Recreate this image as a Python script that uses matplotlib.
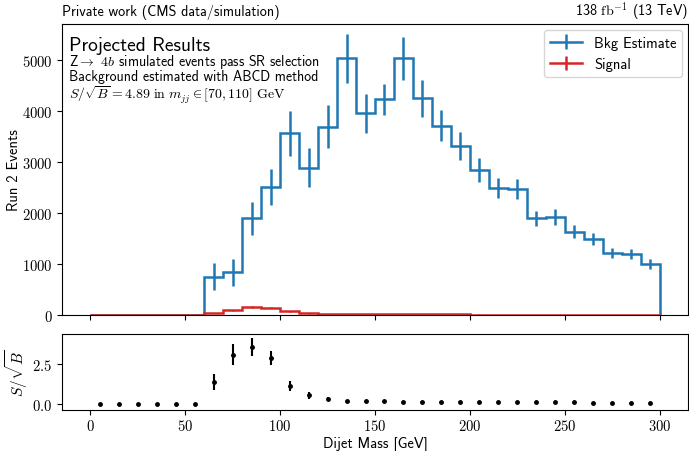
import numpy as np
import matplotlib
matplotlib.use("Agg")
import matplotlib.pyplot as plt
from matplotlib.ticker import FuncFormatter

plt.rcParams["font.family"] = ["cmss10", "DejaVu Sans"]
plt.rcParams["mathtext.fontset"] = "cm"
plt.rcParams["axes.unicode_minus"] = False

# binning: 10 GeV bins from 0 to 300
bin_edges = np.arange(0, 310, 10)
bin_centers = bin_edges[:-1] + 5

bkg = [0, 0, 0, 0, 0, 0, 753, 837, 1896, 2504, 3563, 2890, 3694, 5035, 3955,
       4229, 5033, 4249, 3712, 3320, 2843, 2495, 2470, 1895, 1928, 1634, 1490,
       1216, 1196, 1000]
bkg_err = [0, 0, 0, 0, 0, 0, 260, 260, 320, 355, 435, 380, 420, 480, 390,
           310, 420, 355, 305, 270, 235, 195, 190, 150, 155, 125, 115,
           105, 100, 95]
sig = [0, 0, 0, 0, 0, 0, 38, 90, 157, 145, 69, 30, 19, 12, 11,
       11, 10, 10, 9, 9, 8, 6, 6, 5, 5, 4, 4, 3, 3, 3]
sig_err = [0, 0, 0, 0, 0, 0, 6, 9, 12, 11, 8, 5, 4, 3, 3,
           3, 3, 3, 3, 3, 3, 2, 2, 2, 2, 2, 2, 2, 2, 2]

ratio = [0, 0, 0, 0, 0, 0, 1.39, 3.1, 3.6, 2.9, 1.15, 0.56, 0.31, 0.19, 0.17,
         0.17, 0.16, 0.16, 0.15, 0.15, 0.15, 0.12, 0.12, 0.12, 0.12, 0.11,
         0.1, 0.1, 0.1, 0.09]
ratio_err = [0, 0, 0, 0, 0, 0, 0.5, 0.65, 0.57, 0.45, 0.3, 0.22, 0.12, 0.07,
             0.06, 0.05, 0.05, 0.05, 0.05, 0.05, 0.05, 0.04, 0.04, 0.04, 0.04,
             0.04, 0.04, 0.04, 0.04, 0.04]

blue = "#1f77b4"
red = "#d62728"

fig = plt.figure(figsize=(6.89, 4.52), dpi=100)
gs = fig.add_gridspec(2, 1, height_ratios=[291, 76], hspace=0.104,
                      left=0.09, right=0.9985, top=0.9447, bottom=0.0907)
ax = fig.add_subplot(gs[0])
rax = fig.add_subplot(gs[1], sharex=ax)

math_fmt = FuncFormatter(lambda v, p: f"${v:g}$")

# main panel
ax.stairs(bkg, bin_edges, color=blue, lw=1.8)
ax.errorbar(bin_centers[6:], bkg[6:], yerr=bkg_err[6:], fmt="none", ecolor=blue, elinewidth=1.8)
ax.stairs(sig, bin_edges, color=red, lw=1.8)
ax.errorbar(bin_centers, sig, yerr=sig_err, fmt="none", ecolor=red, elinewidth=1.8)

# legend proxies
ax.errorbar([np.nan], [np.nan], yerr=[1], fmt="-", color=blue, lw=1.8, label="Bkg Estimate")
ax.errorbar([np.nan], [np.nan], yerr=[1], fmt="-", color=red, lw=1.8, label="Signal")
ax.legend(loc="upper right", fontsize=10.5, handlelength=2.2, borderaxespad=0.4)

ax.set_ylim(0, 5710)
ax.set_xlim(-15, 315)
ax.set_yticks([0, 1000, 2000, 3000, 4000, 5000])
ax.yaxis.set_major_formatter(math_fmt)
ax.tick_params(labelsize=10.5)
ax.tick_params(axis="x", labelbottom=False)
ax.set_ylabel("Run 2 Events", fontsize=10.5)
ax.yaxis.set_label_coords(-0.065, 0.5)

ax.text(0.011, 0.912, "Projected Results", transform=ax.transAxes,
        fontsize=14, va="baseline", ha="left")
ax.text(0.011, 0.858, r"Z$\rightarrow$ $4b$ simulated events pass SR selection",
        transform=ax.transAxes, fontsize=10, va="baseline", ha="left")
ax.text(0.011, 0.808, "Background estimated with ABCD method",
        transform=ax.transAxes, fontsize=10, va="baseline", ha="left")
ax.text(0.011, 0.745, r"$S/\sqrt{B} = 4.89\ \mathrm{in}\ m_{jj} \in [70, 110]\ \mathrm{GeV}$",
        transform=ax.transAxes, fontsize=10, va="baseline", ha="left")

ax.text(0.0, 1.031, "Private work (CMS data/simulation)", transform=ax.transAxes,
        fontsize=10.2, va="baseline", ha="left")
ax.text(1.0, 1.031, r"138 $\mathrm{fb}^{-1}$ (13 TeV)", transform=ax.transAxes,
        fontsize=10.2, va="baseline", ha="right")

# ratio panel
rax.errorbar(bin_centers, ratio, yerr=ratio_err, fmt="o", color="black",
             ms=2.5, elinewidth=1.5, capsize=0)
rax.set_ylim(-0.37, 4.4)
rax.set_yticks([0.0, 2.5])
rax.yaxis.set_major_formatter(FuncFormatter(lambda v, p: f"${v:.1f}$"))
rax.set_xticks([0, 50, 100, 150, 200, 250, 300])
rax.xaxis.set_major_formatter(math_fmt)
rax.tick_params(labelsize=10.5)
rax.tick_params(axis="x", pad=2.5)
rax.set_ylabel(r"$S/\sqrt{B}$", fontsize=11)
rax.yaxis.set_label_coords(-0.051, 0.5)
rax.set_xlabel("Dijet Mass [GeV]", fontsize=10.5, labelpad=2)

fig.savefig("out.png", dpi=100)
